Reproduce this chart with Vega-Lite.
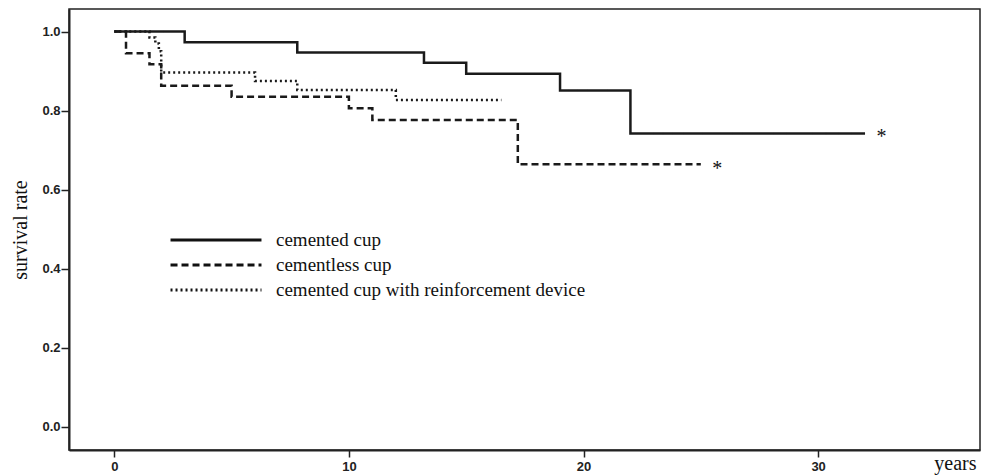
{
  "$schema": "https://vega.github.io/schema/vega-lite/v6.json",
  "width": 911,
  "height": 441,
  "autosize": {"type": "none"},
  "padding": {"left": 69, "top": 9, "right": 1, "bottom": 25},
  "background": "white",
  "config": {
    "view": {"stroke": "#222", "strokeWidth": 1.5},
    "axis": {
      "grid": false,
      "domainColor": "#222",
      "domainWidth": 2,
      "tickColor": "#222",
      "tickWidth": 1.5,
      "labelFont": "Liberation Sans",
      "labelFontWeight": "bold",
      "labelFontSize": 13,
      "labelColor": "#222",
      "titleFont": "Liberation Serif",
      "titleFontWeight": "normal",
      "titleColor": "#111"
    }
  },
  "datasets": {
    "km": [
      {"group": "cemented cup", "years": 0, "rate": 1.0},
      {"group": "cemented cup", "years": 3.0, "rate": 0.973},
      {"group": "cemented cup", "years": 7.8, "rate": 0.947},
      {"group": "cemented cup", "years": 13.2, "rate": 0.921},
      {"group": "cemented cup", "years": 15.0, "rate": 0.893},
      {"group": "cemented cup", "years": 19.0, "rate": 0.851},
      {"group": "cemented cup", "years": 22.0, "rate": 0.742},
      {"group": "cemented cup", "years": 32.0, "rate": 0.742},
      {"group": "cementless cup", "years": 0, "rate": 1.0},
      {"group": "cementless cup", "years": 0.5, "rate": 0.945},
      {"group": "cementless cup", "years": 1.5, "rate": 0.917},
      {"group": "cementless cup", "years": 2.0, "rate": 0.863},
      {"group": "cementless cup", "years": 5.0, "rate": 0.835},
      {"group": "cementless cup", "years": 10.0, "rate": 0.806},
      {"group": "cementless cup", "years": 11.0, "rate": 0.776},
      {"group": "cementless cup", "years": 17.2, "rate": 0.664},
      {"group": "cementless cup", "years": 25.0, "rate": 0.664},
      {"group": "cemented cup with reinforcement device", "years": 0, "rate": 1.0},
      {"group": "cemented cup with reinforcement device", "years": 1.5, "rate": 0.985},
      {"group": "cemented cup with reinforcement device", "years": 1.75, "rate": 0.97},
      {"group": "cemented cup with reinforcement device", "years": 1.9, "rate": 0.95},
      {"group": "cemented cup with reinforcement device", "years": 2.0, "rate": 0.896},
      {"group": "cemented cup with reinforcement device", "years": 6.0, "rate": 0.875},
      {"group": "cemented cup with reinforcement device", "years": 7.8, "rate": 0.852},
      {"group": "cemented cup with reinforcement device", "years": 12.0, "rate": 0.827},
      {"group": "cemented cup with reinforcement device", "years": 16.5, "rate": 0.827}
    ],
    "notes": [
      {"years": 32.7, "rate": 0.742, "sym": "*"},
      {"years": 25.7, "rate": 0.662, "sym": "*"}
    ]
  },
  "layer": [
    {
      "data": {"name": "km"},
      "mark": {"type": "line", "interpolate": "step-after", "strokeWidth": 2.5, "color": "#1a1a1a"},
      "encoding": {
        "x": {
          "field": "years",
          "type": "quantitative",
          "scale": {"domain": [-1.93, 36.9], "nice": false, "zero": false},
          "axis": {
            "values": [0, 10, 20, 30],
            "format": "d",
            "tickSize": 7,
            "labelPadding": 3,
            "title": "years",
            "titleFontSize": 20,
            "titleAlign": "right",
            "titleAnchor": "end",
            "titleBaseline": "alphabetic",
            "titleX": 907,
            "titleY": 19
          }
        },
        "y": {
          "field": "rate",
          "type": "quantitative",
          "scale": {"domain": [-0.059, 1.057], "nice": false, "zero": false},
          "axis": {
            "values": [0, 0.2, 0.4, 0.6, 0.8, 1.0],
            "format": ".1f",
            "tickSize": 8,
            "labelPadding": 1,
            "title": "survival rate",
            "titleFontSize": 20,
            "titlePadding": 11
          }
        },
        "strokeDash": {
          "field": "group",
          "type": "nominal",
          "scale": {
            "domain": ["cemented cup", "cementless cup", "cemented cup with reinforcement device"],
            "range": [[1, 0], [7, 4], [2, 3]]
          },
          "legend": {
            "orient": "none",
            "legendX": 136,
            "legendY": 220,
            "title": null,
            "padding": 0,
            "symbolType": "M-5,0H5",
            "symbolSize": 331,
            "symbolStrokeWidth": 3,
            "symbolStrokeColor": "#111",
            "symbolFillColor": "transparent",
            "labelFont": "Liberation Serif",
            "labelFontSize": 19,
            "labelColor": "#111",
            "labelOffset": 49,
            "rowPadding": 4,
            "labelLimit": 500,
            "encode": {
              "symbols": {
                "enter": {
                  "strokeDash": {"signal": "datum.label === 'cemented cup with reinforcement device' ? [3, 9.5] : datum.label === 'cementless cup' ? [8, 3.5] : [1, 0]"}
                },
                "update": {
                  "strokeDash": {"signal": "datum.label === 'cemented cup with reinforcement device' ? [3, 9.5] : datum.label === 'cementless cup' ? [8, 3.5] : [1, 0]"}
                }
              }
            }
          }
        }
      }
    },
    {
      "data": {"name": "notes"},
      "mark": {"type": "text", "font": "Liberation Serif", "fontSize": 20, "align": "center", "baseline": "alphabetic", "dy": 10, "color": "#111"},
      "encoding": {
        "x": {"field": "years", "type": "quantitative"},
        "y": {"field": "rate", "type": "quantitative"},
        "text": {"field": "sym"}
      }
    }
  ]
}
